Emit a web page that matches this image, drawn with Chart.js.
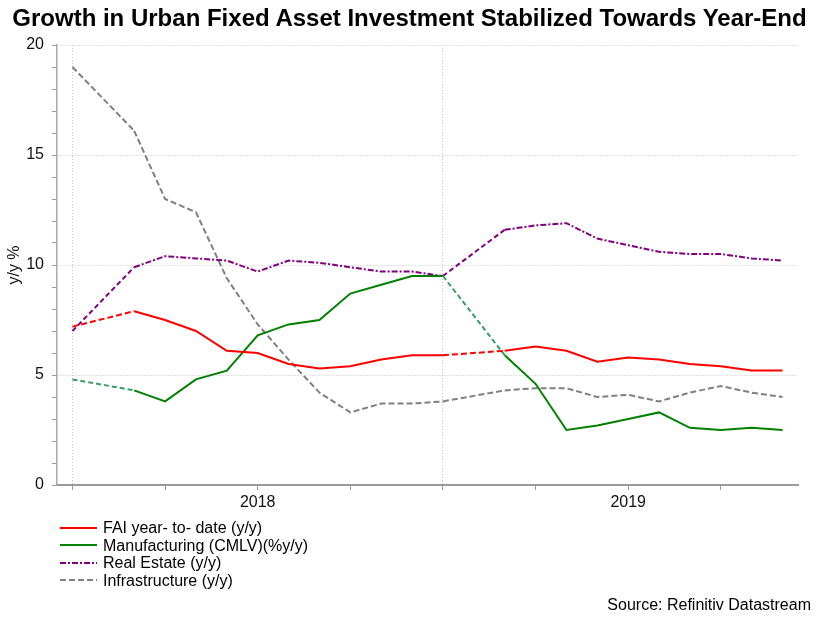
<!DOCTYPE html>
<html>
<head>
<meta charset="utf-8">
<script src="https://cdn.jsdelivr.net/npm/chart.js@4.4.1/dist/chart.umd.min.js"></script>
<style>
  html, body { margin: 0; padding: 0; background: #fff; }
  body { width: 819px; height: 621px; position: relative; overflow: hidden;
         font-family: "Liberation Sans", Arial, sans-serif; color: #000; }
  #wrap { position: absolute; left: 0; top: 0; width: 819px; height: 621px; }
  #title { position: absolute; left: 0; top: 4px; width: 819px; text-align: center;
           font-weight: bold; font-size: 24px; line-height: 28px; white-space: nowrap; }
  #legend { position: absolute; left: 60px; top: 519px; font-size: 16px; line-height: 17.5px; }
  #legend .row { display: flex; align-items: center; height: 17.5px; white-space: nowrap; }
  #legend svg { width: 37px; height: 4px; margin-right: 6px; }
  #source { position: absolute; right: 8px; top: 596px; font-size: 16px; line-height: 18px; }
</style>
</head>
<body>
<div id="wrap"><canvas id="chart" width="819" height="621"></canvas></div>
<div id="title">Growth in Urban Fixed Asset Investment Stabilized Towards Year-End</div>
<div id="legend"></div>
<div id="source">Source: Refinitiv Datastream</div>
<script>
"use strict";

/* ── Data (year-to-date, y/y %) ──────────────────────────── */
const MONTHS = [
  'Dec 2017',
  'Jan 2018', 'Feb 2018', 'Mar 2018', 'Apr 2018', 'May 2018', 'Jun 2018',
  'Jul 2018', 'Aug 2018', 'Sep 2018', 'Oct 2018', 'Nov 2018', 'Dec 2018',
  'Jan 2019', 'Feb 2019', 'Mar 2019', 'Apr 2019', 'May 2019', 'Jun 2019',
  'Jul 2019', 'Aug 2019', 'Sep 2019', 'Oct 2019', 'Nov 2019',
];

// January has no reading (Jan-Feb is reported together)
const FAI = [7.2, null, 7.9, 7.5, 7.0, 6.1, 6.0, 5.5, 5.3, 5.4, 5.7, 5.9, 5.9,
             null, 6.1, 6.3, 6.1, 5.6, 5.8, 5.7, 5.5, 5.4, 5.2, 5.2];
const MANUFACTURING = [4.8, null, 4.3, 3.8, 4.8, 5.2, 6.8, 7.3, 7.5, 8.7, 9.1, 9.5, 9.5,
                       null, 5.9, 4.6, 2.5, 2.7, 3.0, 3.3, 2.6, 2.5, 2.6, 2.5];
const REAL_ESTATE = [7.0, null, 9.9, 10.4, 10.3, 10.2, 9.7, 10.2, 10.1, 9.9, 9.7, 9.7, 9.5,
                     null, 11.6, 11.8, 11.9, 11.2, 10.9, 10.6, 10.5, 10.5, 10.3, 10.2];
const INFRASTRUCTURE = [19.0, null, 16.1, 13.0, 12.4, 9.4, 7.3, 5.7, 4.2, 3.3, 3.7, 3.7, 3.8,
                        null, 4.3, 4.4, 4.4, 4.0, 4.1, 3.8, 4.2, 4.5, 4.2, 4.0];

const Y_TICKS = [0, 5, 10, 15, 20];
const YEAR_LABELS = { 6: '2018', 18: '2019' };

/* ── Styles ──────────────────────────────────────────────── */
const COLORS = {
  fai: '#FF0000',
  mfg: '#008000',
  mfgGap: '#3a9e68',
  re: '#800080',
  infra: '#808080',
  grid: '#c4c4c4',
  axis: '#9a9a9a',
};

const SERIES = [
  { label: 'FAI year- to- date (y/y)', data: FAI, color: COLORS.fai, dash: [], gapDash: [6, 3], gapColor: COLORS.fai },
  { label: 'Manufacturing (CMLV)(%y/y)', data: MANUFACTURING, color: COLORS.mfg, dash: [], gapDash: [5, 3], gapColor: COLORS.mfgGap },
  { label: 'Real Estate (y/y)', data: REAL_ESTATE, color: COLORS.re, dash: [6, 2, 2, 2], gapDash: [5, 3], gapColor: COLORS.re },
  { label: 'Infrastructure (y/y)', data: INFRASTRUCTURE, color: COLORS.infra, dash: [6, 3], gapDash: [6, 3], gapColor: COLORS.infra },
];

/** true when a segment bridges a missing month */
const isGap = ctx => ctx.p1DataIndex - ctx.p0DataIndex > 1 || ctx.p0.skip || ctx.p1.skip;

Chart.defaults.font.family = '"Liberation Sans", Arial, sans-serif';
Chart.defaults.font.size = 16;
Chart.defaults.color = '#111';

const chart = new Chart(document.getElementById('chart'), {
  type: 'line',
  data: {
    labels: MONTHS,
    datasets: SERIES.map(s => ({
      label: s.label,
      data: s.data,
      borderColor: s.color,
      borderWidth: 2,
      borderDash: s.dash,
      pointRadius: 0,
      pointHoverRadius: 0,
      tension: 0,
      fill: false,
      spanGaps: true,
      segment: {
        borderDash: ctx => isGap(ctx) ? s.gapDash : undefined,
        borderColor: ctx => isGap(ctx) ? s.gapColor : undefined,
      },
    })),
  },
  options: {
    responsive: false,
    animation: false,
    events: [],
    layout: { padding: { left: 0, right: 21, top: 45, bottom: 106 } },
    plugins: {
      legend: { display: false },
      title: { display: false },
      tooltip: { enabled: false },
    },
    scales: {
      x: {
        type: 'category',
        offset: true,
        afterFit: s => { s.height = 30; },
        grid: {
          offset: false,
          drawOnChartArea: true,
          color: ctx => (ctx.index === 0 || ctx.index === 12) ? COLORS.grid : 'transparent',
          tickColor: ctx => ctx.index % 3 === 0 ? COLORS.axis : 'transparent',
          tickLength: 5,
          lineWidth: 1,
        },
        border: { display: true, color: COLORS.axis, width: 2, dash: [1, 2] },
        ticks: {
          autoSkip: false,
          maxRotation: 0,
          padding: 3,
          callback: (v, i) => YEAR_LABELS[i] || '',
        },
      },
      y: {
        min: 0,
        max: 20,
        afterFit: s => { s.width = 57; },
        grid: {
          color: ctx => (ctx.tick.value > 0 && Y_TICKS.includes(ctx.tick.value)) ? COLORS.grid : 'transparent',
          tickColor: COLORS.axis,
          tickLength: 5,
          lineWidth: 1,
        },
        border: { display: true, color: '#a8a6b8', width: 1.5, dash: [1, 2] },
        ticks: {
          stepSize: 1,
          autoSkip: false,
          padding: 8,
          callback: v => Y_TICKS.includes(v) ? String(v) : '',
        },
        title: {
          display: true,
          text: 'y/y %',
          padding: { top: 5, bottom: 0 },
          font: { size: 16 },
        },
      },
    },
  },
});

/* ── HTML legend built from the chart's datasets ─────────── */
function renderLegend(c) {
  const box = document.getElementById('legend');
  box.innerHTML = c.data.datasets.map(ds => {
    const dash = (ds.borderDash || []).join(' ');
    return `<div class="row">
      <svg viewBox="0 0 37 4"><line x1="0" y1="2" x2="37" y2="2" stroke="${ds.borderColor}"
        stroke-width="2" ${dash ? `stroke-dasharray="${dash}"` : ''}/></svg>
      <span>${ds.label}</span></div>`;
  }).join('');
}
renderLegend(chart);
</script>
</body>
</html>
